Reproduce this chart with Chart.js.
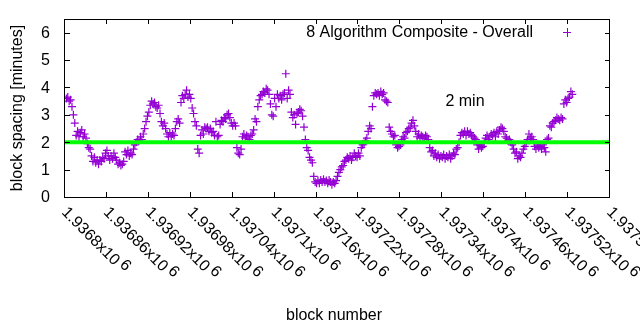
<!DOCTYPE html>
<html>
<head>
<meta charset="utf-8">
<script src="https://cdn.jsdelivr.net/npm/chart.js@4.4.1/dist/chart.umd.min.js"></script>
<style>
  body { margin: 0; background: #fff; }
</style>
</head>
<body>
<canvas id="grafica" width="640" height="330"></canvas>
<script>
/* Espaciado entre bloques (minutos), un valor cada 2 bloques */
const bloqueInicial = 1936802;
const pasoBloques = 2;
const espaciado = [
  3.6, 3.65, 3.5, 3.55, 3.3, 3.0, 2.7, 2.25, 2.4, 2.2,
  2.35, 2.45, 2.2, 2.3, 2.15, 1.95, 1.8, 1.75, 1.5, 1.3,
  1.45, 1.25, 1.35, 1.2, 1.35, 1.3, 1.45, 1.4, 1.6, 1.7,
  1.5, 1.35, 1.5, 1.4, 1.6, 1.45, 1.35, 1.2, 1.25, 1.15,
  1.2, 1.3, 1.65, 1.55, 1.7, 1.5, 1.6, 1.55, 1.75, 1.9,
  2.0, 2.1, 2.05, 2.2, 2.1, 2.3, 2.5, 2.75, 2.95, 3.1,
  3.35, 3.5, 3.4, 3.45, 3.3, 3.25, 3.35, 3.05, 2.75, 2.6,
  2.7, 2.5, 2.3, 2.2, 2.35, 2.2, 2.3, 2.25, 2.5, 2.75,
  2.85, 2.7, 3.45, 3.7, 3.6, 3.75, 3.9, 3.65, 3.75, 3.6,
  3.25, 3.05, 2.75, 2.6, 1.75, 1.6, 2.25, 2.45, 2.3, 2.55,
  2.5, 2.55, 2.4, 2.5, 2.35, 2.4, 2.25, 2.75, 2.2, 2.25,
  2.65, 2.8, 2.75, 2.9, 2.85, 3.0, 3.05, 2.9, 2.7, 2.6,
  2.7, 2.6, 1.8, 1.6, 1.55, 1.75, 2.2, 2.3, 2.15, 2.25,
  2.2, 2.1, 2.25, 2.3, 2.45, 2.85, 2.75, 3.3, 3.55, 3.7,
  3.75, 3.85, 3.8, 3.95, 3.9, 3.75, 3.4, 3.0, 2.95, 3.6,
  3.3, 3.75, 3.6, 3.7, 3.55, 3.75, 3.8, 4.5, 3.6, 3.9,
  3.75, 3.1, 2.9, 3.0, 2.65, 3.05, 3.1, 3.2, 3.15, 2.95,
  2.55, 2.1, 1.8, 1.7, 1.45, 1.35, 1.25, 0.75, 0.55, 0.5,
  0.6, 0.5, 0.62, 0.55, 0.65, 0.55, 0.6, 0.5, 0.62, 0.55,
  0.45, 0.55, 0.5, 0.6, 0.75, 0.9, 1.0, 1.1, 1.15, 1.3,
  1.35, 1.45, 1.4, 1.5, 1.35, 1.45, 1.6, 1.5, 1.45, 1.6,
  1.5, 1.8, 1.9, 1.95, 2.05, 2.15, 2.4, 2.6, 2.5, 3.3,
  3.7, 3.8, 3.75, 3.8, 3.7, 3.85, 3.75, 3.8, 3.55, 3.5,
  3.45, 2.55, 2.4, 2.3, 2.2, 2.25, 1.9, 1.8, 1.85, 1.9,
  2.1, 2.2, 2.15, 2.35, 2.4, 2.5, 2.55, 2.7, 2.8, 2.6,
  2.4, 2.2, 2.3, 2.15, 2.25, 2.2, 2.15, 2.25, 2.2, 2.1,
  1.8, 1.65, 1.7, 1.5, 1.6, 1.45, 1.55, 1.4, 1.5, 1.45,
  1.55, 1.4, 1.5, 1.45, 1.55, 1.4, 1.5, 1.6, 1.55, 1.75,
  1.8, 2.0, 2.25, 2.35, 2.3, 2.4, 2.25, 2.4, 2.3, 2.35,
  2.25, 2.2, 2.15, 2.1, 1.9, 1.75, 1.9, 1.8, 1.85, 2.0,
  2.15, 2.25, 2.1, 2.2, 2.3, 2.25, 2.35, 2.2, 2.4, 2.3,
  2.45, 2.55, 2.5, 2.4, 2.2, 2.15, 2.05, 2.1, 2.0, 1.9,
  1.75, 1.6, 1.65, 1.4, 1.5, 1.45, 1.6, 1.75, 1.85, 1.95,
  2.1, 2.3, 2.15, 2.2, 2.1, 1.85, 1.75, 1.9, 1.8, 1.85,
  1.75, 1.9, 1.8, 1.65, 2.1, 2.15, 2.6, 2.55, 2.7, 2.75,
  2.8, 2.9, 2.85, 2.8, 2.9, 2.85, 3.4, 3.55, 3.45, 3.6,
  3.65, 3.85, 3.75
];

/* Objetivo de 2 minutos */
const objetivo = 2;

/* Marcas de los ejes */
const marcasX = [1936800, 1936860, 1936920, 1936980, 1937040, 1937100, 1937160,
  1937220, 1937280, 1937340, 1937400, 1937460, 1937520, 1937580];
const marcasY = [0, 1, 2, 3, 4, 5, 6];

const fuente = '16px "Liberation Sans", Arial, sans-serif';
const morado = '#9400d3';
const verde = '#00ff00';

var puntos = espaciado.map(function (v, i) {
  return { x: bloqueInicial + i * pasoBloques, y: v };
});

// 1.9368x10^6 -> "1.9368" (sin ceros de sobra)
function mantisa(v) {
  return (v / 1e6).toFixed(5).replace(/0+$/, '');
}

/* Marco, marcas hacia dentro y textos estilo gnuplot */
const marco = {
  id: 'marco',
  afterDraw(chart) {
    const c = chart.ctx;
    const a = chart.chartArea;
    const sx = chart.scales.x;
    const sy = chart.scales.y;
    c.save();
    c.strokeStyle = '#000';
    c.lineWidth = 1;
    c.strokeRect(a.left - 0.5, a.top + 0.5, a.right - a.left, a.bottom - a.top);

    c.beginPath();
    marcasX.forEach(function (v) {
      var px = Math.round(sx.getPixelForValue(v)) - 0.5;
      c.moveTo(px, a.bottom); c.lineTo(px, a.bottom - 5);
      c.moveTo(px, a.top); c.lineTo(px, a.top + 5);
    });
    marcasY.forEach(function (v) {
      var py = Math.round(sy.getPixelForValue(v)) + 0.5;
      c.moveTo(a.left, py); c.lineTo(a.left + 5, py);
      c.moveTo(a.right, py); c.lineTo(a.right - 5, py);
    });
    c.stroke();

    c.fillStyle = '#000';
    c.font = fuente;
    c.textAlign = 'right';
    c.textBaseline = 'middle';
    marcasY.forEach(function (v) {
      c.fillText(String(v), 50, sy.getPixelForValue(v) + 1);
    });

    // etiquetas del eje x giradas -45 grados
    marcasX.forEach(function (v) {
      var px = sx.getPixelForValue(v);
      c.save();
      c.translate(px - 1, 210);
      c.rotate(Math.PI / 4);
      c.textAlign = 'left';
      c.font = fuente;
      var txt = mantisa(v) + 'x10';
      c.fillText(txt, 0, 0);
      var w = c.measureText(txt + ' ').width;
      c.fillText('6', w - 1, -4);
      c.restore();
    });

    c.textAlign = 'center';
    c.fillText('block number', 334, 316);
    c.save();
    c.translate(18, 108);
    c.rotate(-Math.PI / 2);
    c.fillText('block spacing [minutes]', 0, 0);
    c.restore();

    c.fillText('2 min', 465, 102);

    // leyenda
    c.textAlign = 'right';
    c.fillText('8 Algorithm Composite - Overall', 533, 33);
    c.strokeStyle = morado;
    c.beginPath();
    c.moveTo(563, 32.5); c.lineTo(571, 32.5);
    c.moveTo(567.5, 28); c.lineTo(567.5, 37);
    c.stroke();
    c.restore();
  }
};

const ctx = document.getElementById('grafica');

new Chart(ctx, {
  type: 'scatter',
  data: {
    datasets: [{
      type: 'line',
      label: '2 min',
      data: [{ x: marcasX[0], y: objetivo }, { x: marcasX[marcasX.length - 1], y: objetivo }],
      borderColor: verde,
      borderWidth: 4,
      pointRadius: 0,
      fill: false
    }, {
      label: '8 Algorithm Composite - Overall',
      data: puntos,
      pointStyle: 'cross',
      pointRadius: 4,
      borderWidth: 1.2,
      borderColor: morado,
      backgroundColor: morado
    }]
  },
  options: {
    responsive: false,
    animation: false,
    events: [],
    layout: { padding: { left: 0, top: 19, right: 30, bottom: 0 } },
    plugins: { legend: { display: false }, tooltip: { enabled: false } },
    scales: {
      x: {
        type: 'linear',
        min: marcasX[0],
        max: marcasX[marcasX.length - 1],
        ticks: { display: false },
        grid: { display: false },
        border: { display: false },
        afterFit: function (scale) { scale.height = 133; }
      },
      y: {
        min: 0,
        max: 6.5,
        ticks: { display: false },
        grid: { display: false },
        border: { display: false },
        afterFit: function (scale) { scale.width = 65; }
      }
    }
  },
  plugins: [marco]
});
</script>
</body>
</html>
